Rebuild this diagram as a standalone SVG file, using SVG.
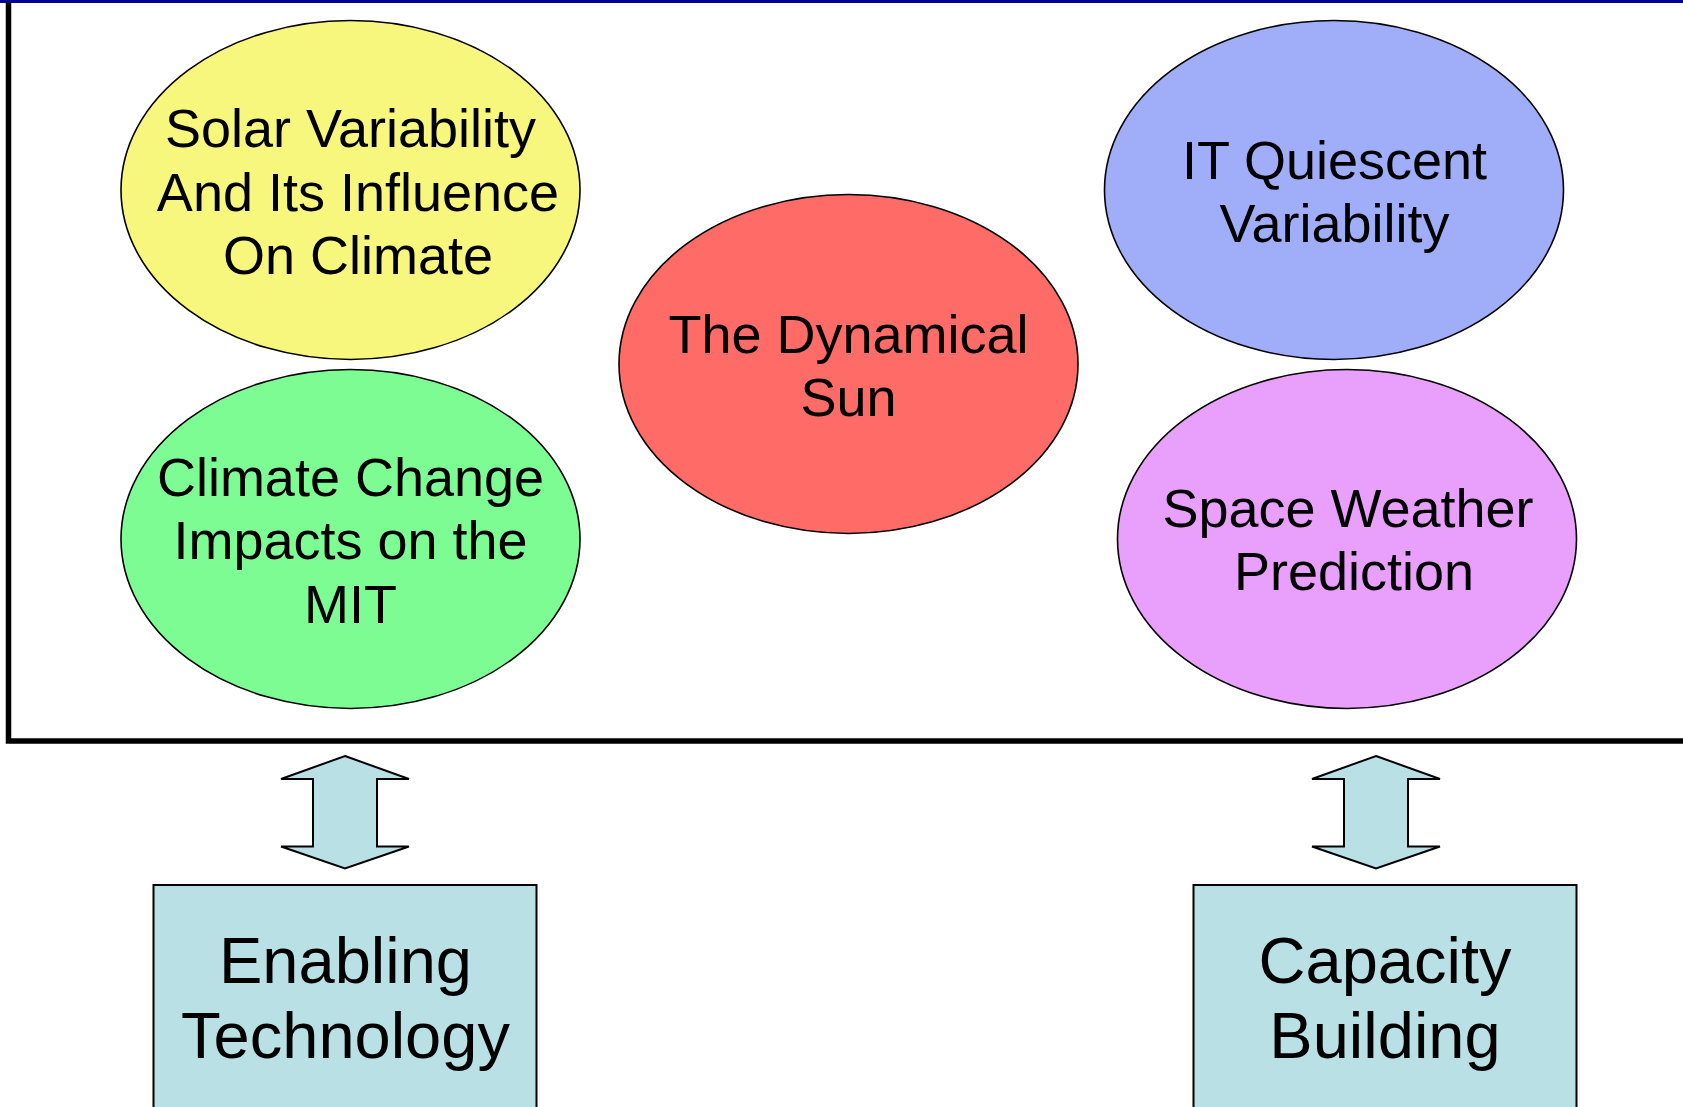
<svg xmlns="http://www.w3.org/2000/svg" width="1683" height="1107" viewBox="0 0 1683 1107">
  <style>
    .topic { stroke: #000; stroke-width: 1.6; }
    .label { font-family: "Liberation Sans", Arial, sans-serif; font-size: 54px; fill: #000; text-anchor: middle; }
    .big { font-family: "Liberation Sans", Arial, sans-serif; font-size: 65px; fill: #000; text-anchor: middle; }
    .support { fill: #B9E0E4; stroke: #000; stroke-width: 2; }
    .link { fill: #B9E0E4; stroke: #000; stroke-width: 2; stroke-linejoin: miter; }
  </style>
  <rect x="0" y="0" width="1683" height="1107" fill="#fff"/>
  <!-- header rule -->
  <rect x="0" y="0" width="1683" height="3" fill="#000099"/>
  <!-- frame around the research themes -->
  <path d="M8.5,2 V741 H1690" fill="none" stroke="#000" stroke-width="5.5"/>

  <g id="solar-variability">
    <ellipse class="topic" cx="350.5" cy="190" rx="229.5" ry="169.5" fill="#F7F77D"/>
    <text class="label" x="350.5" y="147">Solar Variability</text>
    <text class="label" x="358" y="210.5">And Its Influence</text>
    <text class="label" x="358" y="273.8">On Climate</text>
  </g>
  <g id="climate-change">
    <ellipse class="topic" cx="350.5" cy="539" rx="229.5" ry="169.5" fill="#7EFC94"/>
    <text class="label" x="350.5" y="496">Climate Change</text>
    <text class="label" x="350.5" y="559.3">Impacts on the</text>
    <text class="label" x="350.5" y="622.6">MIT</text>
  </g>
  <g id="dynamical-sun">
    <ellipse class="topic" cx="848.5" cy="364" rx="229.5" ry="169.5" fill="#FF6B66"/>
    <text class="label" x="848.5" y="353">The Dynamical</text>
    <text class="label" x="848.5" y="416.3">Sun</text>
  </g>
  <g id="quiescent-variability">
    <ellipse class="topic" cx="1334" cy="190" rx="229.5" ry="169.5" fill="#A0AEFA"/>
    <text class="label" x="1334.5" y="179">IT Quiescent</text>
    <text class="label" x="1334.5" y="242.3">Variability</text>
  </g>
  <g id="space-weather">
    <ellipse class="topic" cx="1347" cy="539" rx="229.5" ry="169.5" fill="#E8A0FC"/>
    <text class="label" x="1348" y="527">Space Weather</text>
    <text class="label" x="1354" y="590.3">Prediction</text>
  </g>

  <g id="connectors">
    <polygon class="link" points="345,756 409,779 377,779 377,846.5 409,846.5 345,868.5 281,846.5 313,846.5 313,779 281,779"/>
    <polygon class="link" points="1376,756 1440,779 1408,779 1408,846.5 1440,846.5 1376,868.5 1312,846.5 1344,846.5 1344,779 1312,779"/>
  </g>

  <g id="enabling-technology">
    <rect class="support" x="153.5" y="885" width="383" height="240"/>
    <text class="big" x="345.5" y="983">Enabling</text>
    <text class="big" x="345.5" y="1058">Technology</text>
  </g>
  <g id="capacity-building">
    <rect class="support" x="1193.5" y="885" width="383" height="240"/>
    <text class="big" x="1385" y="983">Capacity</text>
    <text class="big" x="1385" y="1058">Building</text>
  </g>
</svg>
